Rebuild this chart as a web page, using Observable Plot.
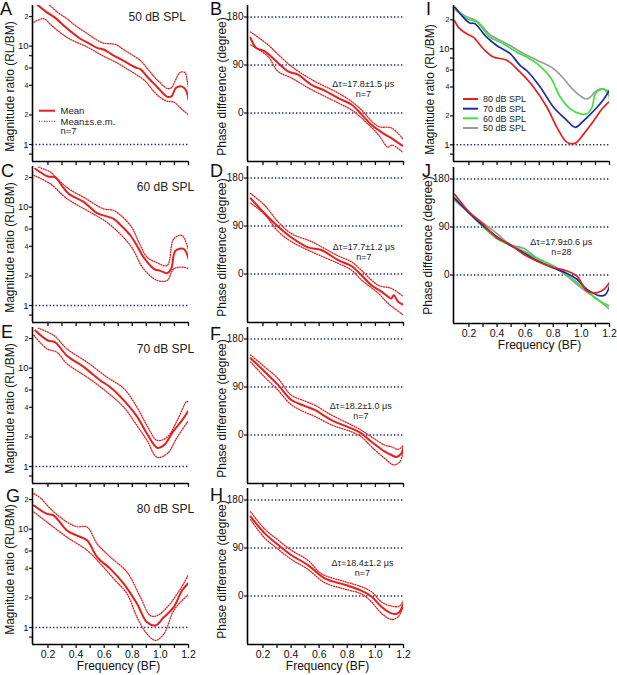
<!DOCTYPE html>
<html><head><meta charset="utf-8">
<script src="https://cdn.jsdelivr.net/npm/d3@7"></script>
<script src="https://cdn.jsdelivr.net/npm/@observablehq/plot@0.6"></script>
<style>
body{margin:0;background:#fff;font-family:"Liberation Sans",Arial,sans-serif;}
#fig{position:relative;width:617px;height:675px;overflow:hidden;background:#fff;}
#fig svg{position:absolute;overflow:visible;}
</style></head><body><div id="fig"></div>
<script>
// ---------- ticks ----------
const xDomain = [0.09, 1.2];
const xTicks = [0.2,0.3,0.4,0.5,0.6,0.7,0.8,0.9,1.0,1.1,1.2];
const xTickLabels = ["0.2","","0.4","","0.6","","0.8","","1.0","","1.2"];
const magTicksMajor = [1,10];
const magLabelsMajor = ["1","10"];
const magTicksMinor = [0.8,2,4,6,8,20];
const magLabelsMinor = ["8","2","4","6","8","2"];
const phaseTicks = [0,90,180];
const phaseLabels = ["0","90","180"];

// ---------- magnitude ratio (mean, mean+sem, mean-sem) ----------
const magA_mean = [[0.115,27],[0.19,22.2],[0.25,19.5],[0.31,16.3],[0.37,13.8],[0.43,11.9],[0.5,10.5],[0.55,9.6],[0.6,9.2],[0.65,8.3],[0.7,7.6],[0.76,6.8],[0.82,6.1],[0.86,5.8],[0.9,5.0],[0.93,4.5],[0.98,3.8],[1.02,3.3],[1.05,3.05],[1.08,3.1],[1.11,3.75],[1.15,3.9],[1.18,3.6],[1.2,2.85]];
const magA_up = [[0.2,27],[0.27,22],[0.335,19],[0.4,16],[0.48,13.4],[0.55,11.5],[0.6,10.7],[0.68,10.4],[0.75,9],[0.82,7.8],[0.86,7.1],[0.9,6.1],[0.95,5],[0.98,4.5],[1.05,3.7],[1.08,3.8],[1.11,4.6],[1.14,5.4],[1.175,5.4],[1.19,4.5],[1.2,3.7]];
const magA_lo = [[0.1,17.5],[0.17,19],[0.22,16.5],[0.28,14],[0.335,12.3],[0.4,11],[0.48,9.8],[0.55,8.6],[0.6,7.85],[0.68,6.9],[0.76,5.9],[0.86,4.8],[0.9,4.3],[0.95,3.5],[1.0,3.0],[1.05,2.75],[1.095,2.7],[1.15,2.3],[1.2,2.0]];

const magC_mean = [[0.11,24.6],[0.2,20.5],[0.25,20.2],[0.3,16.5],[0.347,13.7],[0.454,11.3],[0.55,8.7],[0.668,7.6],[0.72,6.5],[0.787,5.15],[0.84,3.9],[0.88,3.1],[0.953,2.36],[1.0,2.25],[1.048,2.13],[1.077,2.36],[1.107,3.6],[1.166,3.77],[1.2,2.98]];
const magC_up = [[0.133,25.5],[0.216,22.8],[0.25,20.5],[0.347,15.4],[0.454,12.6],[0.596,9.6],[0.668,9.25],[0.787,6.5],[0.85,4.3],[0.905,3.1],[0.97,2.75],[1.048,2.55],[1.095,4.76],[1.154,5.15],[1.2,3.63]];
const magC_lo = [[0.1,21],[0.216,17.3],[0.335,12.2],[0.478,9.25],[0.62,7.0],[0.787,4.07],[0.88,2.36],[0.977,1.8],[1.048,1.8],[1.095,2.36],[1.166,2.45],[1.2,2.36]];

const magE_mean = [[0.11,24.2],[0.2,19.1],[0.25,18.4],[0.335,13.4],[0.454,10.3],[0.573,7.5],[0.644,6.4],[0.74,4.7],[0.834,3.22],[0.905,2.15],[0.977,1.55],[1.024,1.64],[1.095,2.32],[1.154,2.94],[1.2,3.7]];
const magE_up = [[0.13,25.5],[0.24,21.6],[0.335,15.7],[0.478,11.5],[0.62,8.1],[0.74,6.2],[0.834,4.0],[0.905,2.6],[0.977,1.84],[1.048,1.99],[1.12,2.94],[1.188,4.6],[1.2,4.5]];
const magE_lo = [[0.1,21.6],[0.193,15.7],[0.264,14.5],[0.335,11.1],[0.478,8.1],[0.62,5.7],[0.74,4.0],[0.834,2.6],[0.905,1.84],[0.977,1.24],[1.048,1.35],[1.12,1.99],[1.2,2.94]];

const magG_mean = [[0.1,17.4],[0.193,14.3],[0.24,13.8],[0.335,9.7],[0.407,8.6],[0.478,7.7],[0.55,5.2],[0.644,3.95],[0.74,2.78],[0.834,1.74],[0.905,1.13],[0.965,1.05],[1.024,1.27],[1.095,1.61],[1.154,2.38],[1.2,2.83]];
const magG_up = [[0.1,23],[0.15,20.5],[0.216,16.2],[0.335,11.8],[0.407,10.6],[0.478,10.5],[0.55,7.1],[0.644,5.2],[0.763,3.65],[0.858,2.03],[0.929,1.32],[0.977,1.32],[1.048,1.61],[1.143,2.47],[1.2,3.46]];
const magG_lo = [[0.1,14.9],[0.193,11.8],[0.335,8.3],[0.478,6.1],[0.573,4.45],[0.668,3.13],[0.763,2.2],[0.834,1.27],[0.905,0.86],[0.965,0.74],[1.024,0.86],[1.095,1.49],[1.154,1.88],[1.2,2.17]];

// ---------- phase difference (degree) ----------
const phB_mean = [[0.112,141],[0.152,122],[0.211,116],[0.307,94],[0.378,78],[0.449,72],[0.544,53],[0.639,42],[0.735,28],[0.829,16],[0.9,-2],[0.972,-22],[1.067,-40],[1.114,-47],[1.162,-56],[1.2,-62]];
const phB_up = [[0.112,152],[0.236,128],[0.307,110],[0.4,88],[0.544,63],[0.735,37.5],[0.829,22],[0.9,6],[1.02,-25],[1.114,-28],[1.2,-50]];
const phB_lo = [[0.112,128],[0.236,106],[0.307,78],[0.4,66],[0.544,44],[0.735,19],[0.829,6],[0.9,-9],[1.02,-40.5],[1.09,-64],[1.12,-60],[1.2,-75]];

const phD_mean = [[0.112,142],[0.188,120],[0.307,89],[0.4,69],[0.52,50],[0.615,45],[0.735,26],[0.829,15],[0.9,-2],[0.972,-21],[1.043,-33],[1.09,-42.5],[1.114,-46],[1.13,-40],[1.162,-52],[1.2,-58]];
const phD_up = [[0.112,151],[0.211,129],[0.307,98],[0.4,76],[0.544,61],[0.735,34],[0.829,23],[0.9,7],[1.02,-21],[1.114,-27],[1.2,-42.5]];
const phD_lo = [[0.112,133],[0.211,112],[0.307,80],[0.4,61],[0.544,42],[0.735,20],[0.829,7.5],[0.9,-11],[1.02,-36],[1.09,-55],[1.2,-77]];

const phF_mean = [[0.112,144],[0.211,119],[0.307,94],[0.4,66],[0.496,54.5],[0.568,47],[0.687,28],[0.829,12.5],[0.9,3],[0.972,-12.5],[1.067,-31],[1.114,-37.5],[1.15,-41],[1.186,-34],[1.2,-22]];
const phF_up = [[0.112,150],[0.211,128],[0.307,106],[0.4,75],[0.496,64],[0.568,56],[0.687,37.5],[0.829,19],[0.9,9],[0.972,-3.5],[1.067,-19],[1.114,-22],[1.162,-27],[1.2,-19]];
const phF_lo = [[0.112,137],[0.211,109],[0.307,84],[0.4,57],[0.496,43],[0.568,35],[0.687,19],[0.829,6],[0.9,-3.5],[0.972,-22],[1.067,-44],[1.13,-56],[1.175,-50],[1.2,-25]];

const phH_mean = [[0.112,149],[0.211,118],[0.307,96],[0.4,77],[0.52,58],[0.639,33],[0.782,21],[0.9,10],[0.972,-1],[1.043,-20],[1.114,-32.5],[1.162,-32],[1.2,-14]];
const phH_up = [[0.112,158],[0.211,126],[0.307,105],[0.4,86],[0.52,67],[0.615,42],[0.782,27],[0.9,17.5],[0.972,8],[1.043,-11],[1.114,-19],[1.17,-19],[1.2,-8]];
const phH_lo = [[0.112,143],[0.211,109],[0.307,88],[0.4,69],[0.52,50],[0.639,25],[0.782,13],[0.9,4],[0.972,-11],[1.043,-32.5],[1.114,-44],[1.162,-39],[1.2,-19]];

// ---------- panel I / J: four levels ----------
const levels = ["80 dB SPL","70 dB SPL","60 dB SPL","50 dB SPL"];
const levelColors = ["#e41f1f","#1a2ba6","#3de23a","#9b9b9b"];
const magI_80 = [[0.1,19.4],[0.124,16.8],[0.184,14.3],[0.231,13.2],[0.302,10.0],[0.374,8.2],[0.469,7.6],[0.564,5.7],[0.659,4.0],[0.755,2.46],[0.826,1.52],[0.898,1.06],[0.957,1.04],[1.017,1.3],[1.089,1.79],[1.148,2.37],[1.195,2.78]];
const magI_70 = [[0.1,27],[0.159,21.3],[0.207,18.5],[0.24,18.3],[0.326,13.2],[0.398,10.8],[0.493,8.9],[0.564,6.7],[0.612,5.9],[0.707,4.0],[0.802,2.46],[0.898,1.79],[0.957,1.52],[1.017,1.79],[1.112,2.46],[1.16,3.0],[1.2,3.7]];
const magI_60 = [[0.1,27],[0.184,20.5],[0.255,19.0],[0.35,13.2],[0.445,11.3],[0.54,9.2],[0.612,8.2],[0.684,7.0],[0.779,5.06],[0.85,3.13],[0.921,2.37],[0.993,2.1],[1.04,2.1],[1.076,2.46],[1.1,3.4],[1.148,3.8],[1.19,3.6],[1.2,2.9]];
const magI_50 = [[0.1,25.5],[0.184,21.5],[0.255,19.5],[0.35,14],[0.469,11.3],[0.588,8.9],[0.684,7.6],[0.802,6.2],[0.874,4.9],[0.945,3.7],[1.04,3.0],[1.112,3.7],[1.16,3.8],[1.2,3.2]];
const phJ_80 = [[0.1,151],[0.195,120],[0.302,95],[0.398,70],[0.493,57.5],[0.588,39],[0.684,26],[0.802,14],[0.898,7.5],[0.969,-2],[1.04,-30],[1.112,-33],[1.16,-27],[1.2,-14]];
const phJ_70 = [[0.1,143],[0.195,118],[0.302,92],[0.398,72],[0.493,56],[0.588,42],[0.684,27],[0.802,13],[0.898,3],[0.969,-8],[1.04,-27],[1.136,-39],[1.17,-37],[1.2,-21]];
const phJ_60 = [[0.1,145],[0.195,118],[0.302,90],[0.398,68],[0.493,56],[0.588,45],[0.684,31],[0.802,17],[0.898,0],[0.969,-14],[1.04,-30],[1.112,-46],[1.2,-58]];
const phJ_50 = [[0.1,140],[0.195,118],[0.302,97],[0.398,78],[0.493,57],[0.588,50],[0.684,32],[0.802,16],[0.898,-2],[0.969,-18],[1.04,-32],[1.112,-45],[1.2,-64]];

// ---------- drawing ----------
const RED = "#e41f1f", NAVY = "#1f2d86", FONT = "'Liberation Sans', Arial, sans-serif";
const DOT = "1 1.5";
const fig = document.getElementById("fig");
const fmt = (ticks, labels) => { const m = new Map(ticks.map((t,i)=>[t,labels[i]])); return d => m.get(d) ?? ""; };

function triple(mean, up, lo){
  return [
    {data: up, color: RED, width: 1.3, dash: DOT},
    {data: lo, color: RED, width: 1.3, dash: DOT},
    {data: mean, color: RED, width: 2}
  ];
}

function panel(p){
  const mT = 5, mR = 8, mB = p.xLabels ? 32 : 8, W = 156, H = p.h || 156;
  const isMag = p.kind === "mag";
  const marks = [];
  marks.push(Plot.ruleY(isMag ? [1] : phaseTicks, {stroke: NAVY, strokeWidth: 1.4, strokeDasharray: "1.4 2.1"}));
  for (const s of p.series) {
    marks.push(Plot.line(s.data, {x: d => d[0], y: d => d[1], stroke: s.color, strokeWidth: s.width,
      strokeDasharray: s.dash, curve: "catmull-rom", clip: true}));
  }
  marks.push(Plot.ruleX([xDomain[0]], {stroke: "#000", strokeWidth: 1.6}));
  marks.push(Plot.ruleY([p.yDomain[0]], {stroke: "#000", strokeWidth: 1.6}));
  marks.push(Plot.axisX({ticks: xTicks, tickFormat: p.xLabels ? fmt(xTicks, xTickLabels) : () => "",
    tickSize: 4, tickPadding: 2, fontSize: 10.5, label: null, strokeWidth: 1.3}));
  if (isMag) {
    marks.push(Plot.axisY({ticks: magTicksMajor, tickFormat: fmt(magTicksMajor, magLabelsMajor), tickSize: 3, tickPadding: 1, fontSize: 9.5, label: null, strokeWidth: 1.2}));
    marks.push(Plot.axisY({ticks: magTicksMinor, tickFormat: fmt(magTicksMinor, magLabelsMinor), tickSize: 3, tickPadding: 1, fontSize: 7, label: null, strokeWidth: 1.2}));
  } else {
    marks.push(Plot.axisY({ticks: phaseTicks, tickFormat: fmt(phaseTicks, phaseLabels), tickSize: 3, tickPadding: 1, fontSize: 10, label: null, strokeWidth: 1.2}));
  }
  marks.push(Plot.text([p.yTitle], {text: d => d, frameAnchor: "left", rotate: -90, dx: p.titleDx, dy: p.titleDy ?? 3,
    fontSize: 12, fill: "#111", textAnchor: "middle", lineAnchor: "middle"}));
  if (p.xLabels) {
    marks.push(Plot.text(["Frequency (BF)"], {text: d => d, frameAnchor: "bottom", dx: p.xTitleDx || 0, dy: 22,
      fontSize: 12, fill: "#111", textAnchor: "middle", lineAnchor: "middle"}));
  }
  if (p.note) {
    marks.push(Plot.text([p.note], {text: d => d, frameAnchor: "top-left", dx: p.noteDx, dy: p.noteDy,
      fontSize: p.noteSize, fill: "#222", textAnchor: "middle", lineAnchor: "middle", lineHeight: 1.1}));
  }
  const svg = Plot.plot({
    width: W + p.mL + mR, height: H + mT + mB,
    marginLeft: p.mL, marginRight: mR, marginTop: mT, marginBottom: mB,
    x: {domain: xDomain},
    y: {type: isMag ? "log" : "linear", domain: p.yDomain},
    style: {fontFamily: FONT, color: "#111", background: "none", overflow: "visible"},
    marks
  });
  svg.style.left = (p.x0 - p.mL) + "px";
  svg.style.top = (p.y0 - mT) + "px";
  fig.appendChild(svg);
}

const MAGT = "Magnitude ratio (RL/BM)", PHT = "Phase difference (degree)";
const magDom = [0.672, 25.9], phDom = [-90.9, 201.6];
const L = {x0: 32, mL: 32, titleDx: -22}, M = {x0: 246.7, mL: 36, titleDx: -25.7};

panel({...L, y0: 5, kind: "mag", yDomain: magDom, yTitle: MAGT, series: triple(magA_mean, magA_up, magA_lo), note: "50 dB SPL", noteDx: 124.7, noteDy: 11.7, noteSize: 12});
panel({...L, y0: 166, kind: "mag", yDomain: magDom, yTitle: MAGT, series: triple(magC_mean, magC_up, magC_lo), note: "60 dB SPL", noteDx: 133, noteDy: 20.7, noteSize: 12});
panel({...L, y0: 327, kind: "mag", yDomain: magDom, yTitle: MAGT, series: triple(magE_mean, magE_up, magE_lo), note: "70 dB SPL", noteDx: 133, noteDy: 21.3, noteSize: 12});
panel({...L, y0: 488, kind: "mag", yDomain: magDom, yTitle: MAGT, series: triple(magG_mean, magG_up, magG_lo), note: "80 dB SPL", noteDx: 133, noteDy: 20.3, noteSize: 12, xLabels: true, xTitleDx: 8});

panel({...M, y0: 5, kind: "phase", yDomain: phDom, yTitle: PHT, series: triple(phB_mean, phB_up, phB_lo), note: "\u0394\u03c4=17.8\u00b11.5 \u03bcs\nn=7", noteDx: 115.8, noteDy: 83.3, noteSize: 9});
panel({...M, y0: 166, kind: "phase", yDomain: phDom, yTitle: PHT, series: triple(phD_mean, phD_up, phD_lo), note: "\u0394\u03c4=17.7\u00b11.2 \u03bcs\nn=7", noteDx: 116.3, noteDy: 85.7, noteSize: 9});
panel({...M, y0: 327, kind: "phase", yDomain: phDom, yTitle: PHT, series: triple(phF_mean, phF_up, phF_lo), note: "\u0394\u03c4=18.2\u00b11.0 \u03bcs\nn=7", noteDx: 113.3, noteDy: 83.2, noteSize: 9});
panel({...M, y0: 488, kind: "phase", yDomain: phDom, yTitle: PHT, series: triple(phH_mean, phH_up, phH_lo), note: "\u0394\u03c4=18.4\u00b11.2 \u03bcs\nn=7", noteDx: 115, noteDy: 79.2, noteSize: 9, xLabels: true, xTitleDx: 2});

const magIseries = [magI_80, magI_70, magI_60, magI_50];
const phJseries = [phJ_80, phJ_70, phJ_60, phJ_50];
panel({x0: 453, mL: 36, titleDx: -23, titleDy: 6, y0: 5, kind: "mag", yDomain: [0.67, 28.2], yTitle: MAGT,
  series: magIseries.map((d,i) => ({data: d, color: levelColors[i], width: 1.7})).reverse()});
panel({x0: 453, mL: 36, titleDx: -25, titleDy: 0, y0: 166.5, kind: "phase", yDomain: phDom, yTitle: PHT,
  series: phJseries.map((d,i) => ({data: d, color: levelColors[i], width: 1.7})).reverse(),
  note: "\u0394\u03c4=17.9\u00b10.6 \u03bcs\nn=28", noteDx: 107.8, noteDy: 79.7, noteSize: 9, xLabels: true, xTitleDx: 8});

// ---------- overlay: panel letters and legends ----------
const NS = "http://www.w3.org/2000/svg";
const ov = document.createElementNS(NS, "svg");
ov.setAttribute("width", 617); ov.setAttribute("height", 675);
ov.style.left = "0px"; ov.style.top = "0px";
ov.style.fontFamily = FONT;
function add(tag, attrs, text){
  const e = document.createElementNS(NS, tag);
  for (const k in attrs) e.setAttribute(k, attrs[k]);
  if (text != null) e.textContent = text;
  ov.appendChild(e); return e;
}
const letters = [["A",0,15],["B",210,15],["C",1,177],["D",210,177],["E",1,338],["F",210,340],["G",6,502],["H",210,501],["I",426,15],["J",422,177]];
for (const [t,x,y] of letters) add("text", {x, y, "font-size": 18, fill: "#111"}, t);
// legend in A
add("line", {x1: 39, x2: 55, y1: 110.7, y2: 110.7, stroke: RED, "stroke-width": 2});
add("line", {x1: 39, x2: 55, y1: 121.3, y2: 121.3, stroke: RED, "stroke-width": 1.3, "stroke-dasharray": DOT});
add("text", {x: 60.5, y: 114, "font-size": 9.5, fill: "#222"}, "Mean");
add("text", {x: 60.5, y: 124.6, "font-size": 9.5, fill: "#222"}, "Mean\u00b1s.e.m.");
add("text", {x: 60.5, y: 134.3, "font-size": 9.5, fill: "#222"}, "n=7");
// legend in I
const legY = [99, 108.7, 118.3, 128];
levels.forEach((lv, i) => {
  add("line", {x1: 463, x2: 478, y1: legY[i], y2: legY[i], stroke: levelColors[i], "stroke-width": 2});
  add("text", {x: 483, y: legY[i] + 3.2, "font-size": 9, fill: "#222"}, lv);
});
fig.appendChild(ov);
</script></body></html>
